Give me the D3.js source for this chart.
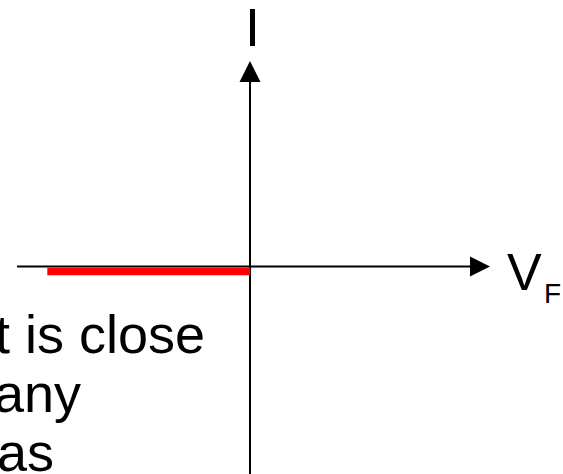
<!DOCTYPE html>
<html>
<head>
<meta charset="utf-8">
<script src="https://cdn.jsdelivr.net/npm/d3@7"></script>
<style>
  html, body { margin: 0; padding: 0; background: #fff; overflow: hidden; }
  svg { display: block; }
  text { font-family: "Liberation Sans", Arial, sans-serif; fill: #000; }
</style>
</head>
<body>
<svg id="chart" width="563" height="474"></svg>
<script>
// ---- data ----
const curveV = [-0.87, 0];          // forward voltage (reverse region)
const curveI = [-0.024, -0.024];    // current, close to zero
const axisLabels = ["I", "V", "F"];
const textLines = ["t is close", "any", "as"];
const xAxisExtent = [-1, 1.03];
const yAxisExtent = [-1.05, 1];

const W = 563, H = 474;
const svg = d3.select("#chart");

const x = d3.scaleLinear().domain([-1, 1]).range([17, 483]);
const y = d3.scaleLinear().domain([-1, 1]).range([472, 61]);

// text block (partially clipped at left)
const tx = [205, 81, 54];
const ty = [353, 412, 471];
svg.selectAll("text.body").data(textLines).enter().append("text")
  .attr("class", "body")
  .attr("x", (d, i) => tx[i]).attr("y", (d, i) => ty[i])
  .attr("text-anchor", "end")
  .style("font-size", "54px")
  .text(d => d);

// axes
const ax = svg.append("g").attr("stroke", "#000").attr("stroke-width", 2);
ax.append("line")
  .attr("x1", x(xAxisExtent[0])).attr("x2", x(xAxisExtent[1]) - 10)
  .attr("y1", y(0)).attr("y2", y(0));
ax.append("line")
  .attr("x1", x(0)).attr("x2", x(0))
  .attr("y1", y(yAxisExtent[0])).attr("y2", y(yAxisExtent[1]) + 10);

// arrow heads
const xt = x(xAxisExtent[1]), yt = y(yAxisExtent[1]);
svg.append("path")
  .attr("d", `M${xt},${y(0)} L${xt - 20},${y(0) - 10} L${xt - 20},${y(0) + 10} Z`)
  .attr("fill", "#000");
svg.append("path")
  .attr("d", `M${x(0)},${yt} L${x(0) - 10.5},${yt + 21} L${x(0) + 10.5},${yt + 21} Z`)
  .attr("fill", "#000");

// red curve
const pts = curveV.map((v, i) => [v, curveI[i]]);
svg.append("path")
  .datum(pts)
  .attr("d", d3.line().x(d => x(d[0])).y(d => y(d[1])))
  .attr("fill", "none")
  .attr("stroke", "#ff0000")
  .attr("stroke-width", 7.5);

// axis labels
svg.append("text").attr("x", 245).attr("y", 46)
  .style("font-size", "54px").text(axisLabels[0]);
svg.append("text").attr("x", 507).attr("y", 290)
  .style("font-size", "52px").text(axisLabels[1]);
svg.append("text").attr("x", 544).attr("y", 303)
  .style("font-size", "28px").text(axisLabels[2]);
</script>
</body>
</html>
